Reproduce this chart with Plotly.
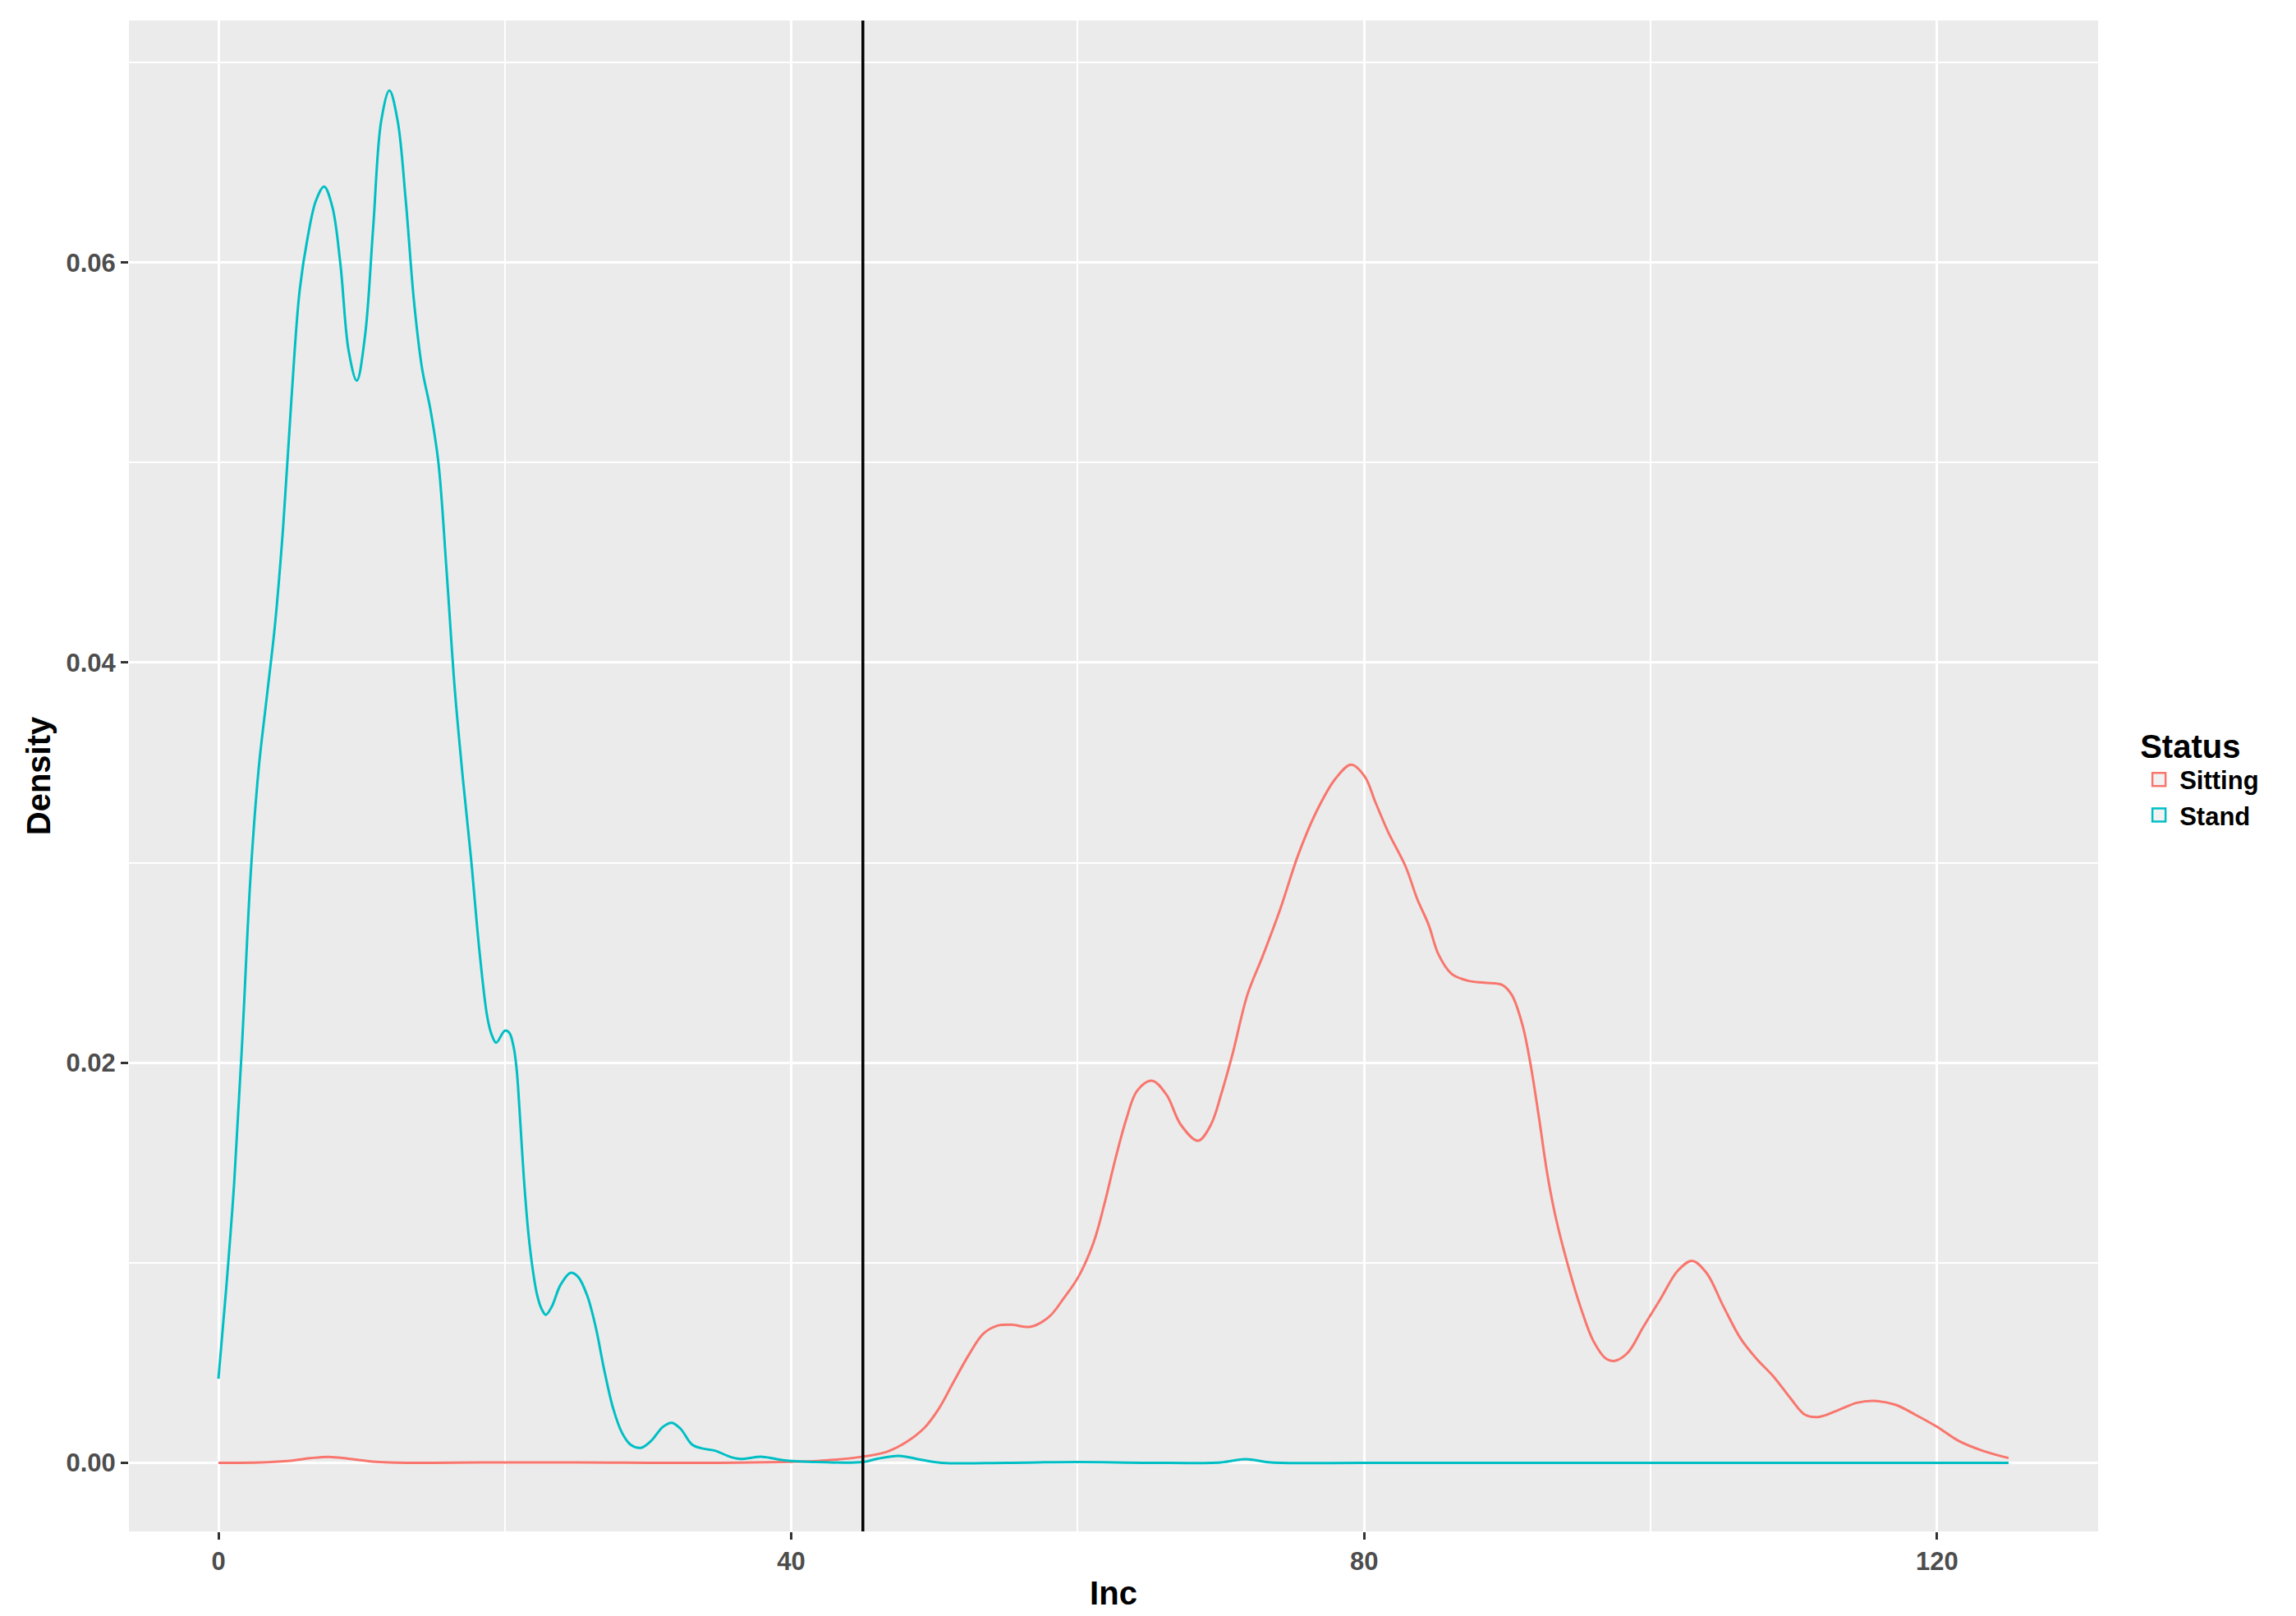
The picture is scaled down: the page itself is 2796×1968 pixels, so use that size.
"""
Density of Inc by Status (ggplot-style density chart)
"""

import plotly.graph_objects as go

# Stand density curve
stand_inc = [0.0, 0.53, 1.10, 1.67, 2.24, 2.81, 3.38, 3.95, 4.52, 5.10, 5.67, 6.24,
             6.81, 7.38, 7.95, 8.52, 9.09, 9.66, 10.23, 10.80, 11.37, 11.94, 12.51,
             13.08, 13.65, 14.22, 14.79, 15.36, 15.93, 16.50, 17.07, 17.64, 18.21,
             18.77, 19.08, 19.39, 20.0, 20.31, 20.61, 20.82, 21.02, 21.33, 21.64,
             21.94, 22.25, 22.56, 22.86, 23.27, 23.89, 24.6, 25.11, 25.73, 26.34,
             26.95, 27.57, 28.18, 28.79, 29.51, 30.22, 31.04, 31.66, 32.27, 33.09,
             33.91, 34.72, 35.54, 36.36, 38.0, 39.43, 41.5, 45.0, 46.0, 47.5, 49.0,
             50.5, 55.0, 60.0, 65.0, 70.0, 71.7, 73.5, 80.0, 90.0, 100.0, 110.0, 125.0]
stand_density = [0.0042, 0.0086, 0.0140, 0.0212, 0.0293, 0.0347, 0.0383, 0.0419, 0.0468,
                 0.0532, 0.0586, 0.0613, 0.0631, 0.0638, 0.0628, 0.0599, 0.0556, 0.0541,
                 0.0563, 0.0617, 0.0671, 0.0686, 0.0671, 0.0631, 0.0581, 0.0547, 0.0527,
                 0.0500, 0.0446, 0.0387, 0.0342, 0.0302, 0.0257, 0.0223, 0.0214, 0.0210,
                 0.0216, 0.0215, 0.0208, 0.0197, 0.0177, 0.0142, 0.0115, 0.0097, 0.0084,
                 0.0077, 0.0074, 0.0078, 0.0089, 0.0095, 0.0093, 0.0084, 0.0068, 0.0046,
                 0.0027, 0.0015, 0.0009, 0.00075, 0.0011, 0.0018, 0.0020, 0.0017, 0.0009,
                 0.0007, 0.0006, 0.00035, 0.0002, 0.0003, 0.00013, 0.00004, 0.00004,
                 0.0002, 0.00035, 0.00016, 0.0, 0.0, 0.00004, 0.0, 0.00002, 0.00018,
                 0.00002, 0.0, 0.0, 0.0, 0.0, 0.0]

# Sitting density curve
sitting_inc = [0.0, 3.0, 5.0, 6.4, 7.7, 9.1, 11.0, 12.5, 15.0, 20.0, 25.0, 30.0, 35.0,
               39.5, 42.0, 44.9, 46.7, 48.0, 49.3, 50.3, 51.3, 52.4, 53.4, 54.4, 55.4,
               56.7, 58.0, 59.0, 60.05, 61.1, 61.85, 62.6, 63.4, 64.15, 65.2, 66.2, 67.2,
               68.4, 69.3, 70.05, 70.8, 71.85, 72.9, 74.15, 75.4, 76.7, 78.0, 79.1, 80.05,
               80.8, 81.7, 82.9, 83.7, 84.5, 85.2, 86.1, 87.25, 88.4, 89.6, 90.3, 91.05,
               91.6, 92.2, 92.8, 93.4, 94.3, 95.15, 96.0, 96.9, 97.5, 98.4, 99.5, 100.7,
               101.9, 102.9, 103.9, 105.1, 106.3, 107.4, 108.6, 109.8, 110.8, 111.8,
               113.0, 114.4, 115.6, 117.1, 118.5, 120.0, 121.5, 123.2, 125.0]
sitting_density = [0.0, 0.00002, 0.0001, 0.00023, 0.0003, 0.0002, 0.00005, 0.00001, 0.0,
                   0.00002, 0.00002, 0.0, 0.0, 0.00004, 0.0001, 0.0003, 0.00056, 0.00102,
                   0.00175, 0.0027, 0.0040, 0.0054, 0.00645, 0.00686, 0.0069, 0.0068,
                   0.0073, 0.0082, 0.0093, 0.0110, 0.0129, 0.0151, 0.0172, 0.0186, 0.0191,
                   0.0184, 0.0169, 0.0161, 0.0169, 0.0185, 0.0204, 0.0234, 0.0253, 0.0277,
                   0.0304, 0.0326, 0.0342, 0.0349, 0.0343, 0.0330, 0.0315, 0.0298, 0.0282,
                   0.0269, 0.0254, 0.02445, 0.0241, 0.0240, 0.0239, 0.0234, 0.0219, 0.0200,
                   0.0173, 0.0144, 0.0122, 0.0097, 0.0077, 0.0061, 0.0052, 0.0051, 0.0055,
                   0.0068, 0.0082, 0.0096, 0.0101, 0.0095, 0.0078, 0.0062, 0.0052, 0.0043,
                   0.0032, 0.0024, 0.0023, 0.0026, 0.0030, 0.0031, 0.0029, 0.0024, 0.0018,
                   0.0011, 0.0006, 0.00024]

cutoff = 45
x_ticks = [0, 40, 80, 120]
y_ticks = [0.00, 0.02, 0.04, 0.06]
y_tick_labels = ["0.00", "0.02", "0.04", "0.06"]

RED = '#F8766D'
CYAN = '#00BFC4'
FONT = 'Liberation Sans, Arial, Helvetica, sans-serif'

fig = go.Figure()

# Curves
fig.add_trace(go.Scatter(
    x=sitting_inc, y=sitting_density, mode='lines', line_shape='spline',
    line=dict(color=RED, width=3), name='Sitting', legendgroup='Sitting',
    showlegend=False
))
fig.add_trace(go.Scatter(
    x=stand_inc, y=stand_density, mode='lines', line_shape='spline',
    line=dict(color=CYAN, width=3), name='Stand', legendgroup='Stand',
    showlegend=False
))

# Legend keys (outlined squares like ggplot)
for name, color in [('Sitting', RED), ('Stand', CYAN)]:
    fig.add_trace(go.Scatter(
        x=[None], y=[None], mode='markers', name=name, legendgroup=name,
        marker=dict(symbol='square', size=16, color='#F2F2F2',
                    line=dict(color=color, width=2.5))
    ))

# Vertical cutoff line
fig.add_vline(x=cutoff, line=dict(color='black', width=3.5))

fig.update_layout(
    width=2796, height=1968,
    paper_bgcolor='white',
    plot_bgcolor='#EBEBEB',
    margin=dict(l=157, r=241, t=25, b=103),
    font=dict(family=FONT, size=31, color='#4D4D4D', weight='bold'),
    showlegend=True,
    legend=dict(
        title=dict(text='Status', font=dict(size=40, color='black', weight='bold')),
        font=dict(size=31, color='black', weight='bold'),
        x=1.0205, xanchor='left', y=0.5, yanchor='middle',
        itemwidth=40,
        bgcolor='rgba(0,0,0,0)', tracegroupgap=0
    ),
)

fig.update_xaxes(
    range=[-6.25, 131.25],
    tickvals=x_ticks,
    ticks='outside', ticklen=9, tickwidth=3, tickcolor='#333333',
    showgrid=True, gridcolor='white', gridwidth=3,
    minor=dict(dtick=20, tick0=0, showgrid=True, gridcolor='white', gridwidth=1.5, ticks=''),
    zeroline=False, showline=False, automargin=False,
    title=dict(text='Inc', font=dict(size=40, color='black', weight='bold'), standoff=7),
)
fig.update_yaxes(
    range=[-0.00343, 0.0721],
    tickvals=y_ticks, ticktext=y_tick_labels,
    ticks='outside', ticklen=9, tickwidth=3, tickcolor='#333333',
    showgrid=True, gridcolor='white', gridwidth=3,
    minor=dict(dtick=0.01, tick0=0, showgrid=True, gridcolor='white', gridwidth=1.5, ticks=''),
    zeroline=False, showline=False, automargin=False,
    title=dict(text='Density', font=dict(size=40, color='black', weight='bold'), standoff=6),
)

# drop the default page margin so the figure sits at the window origin
fig.write_html("out.html", config={'displayModeBar': False},
               post_script="document.body.style.margin='0';")
